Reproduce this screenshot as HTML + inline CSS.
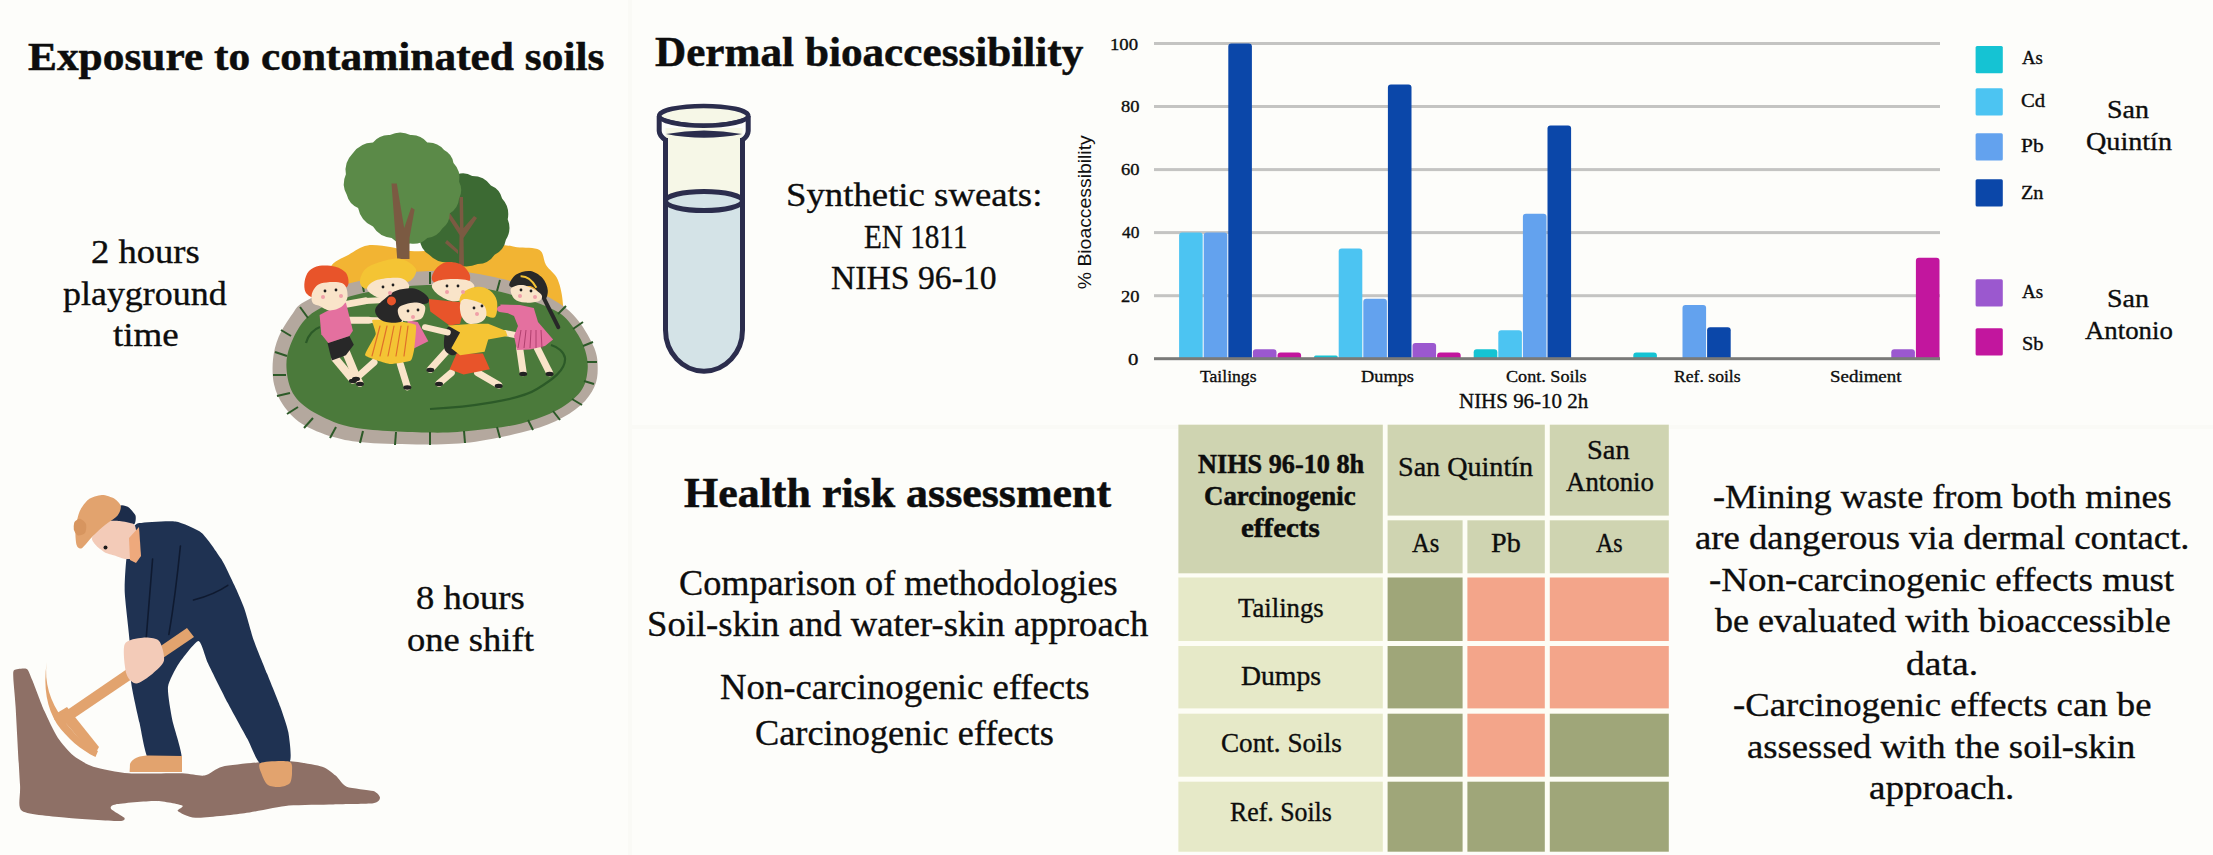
<!DOCTYPE html>
<html><head><meta charset="utf-8"><title>Graphical abstract</title>
<style>
html,body{margin:0;padding:0;}
body{width:2213px;height:855px;position:relative;overflow:hidden;background:#fdfdfa;font-family:"Liberation Serif", serif;color:#0d0d0d;}
.t{position:absolute;white-space:nowrap;transform-origin:0 0;-webkit-text-stroke:0.35px #0d0d0d;}
.b{-webkit-text-stroke:0.5px #0d0d0d;}
svg{position:absolute;left:0;top:0;}
</style></head><body>
<svg width="2213" height="855" viewBox="0 0 2213 855">
<rect x="628" y="0" width="4" height="855" fill="#fafaf6"/>
<rect x="632" y="425" width="1581" height="4" fill="#fafaf6"/>

<g id="playground">
<path d="M328.0,300.0 C328.0,289.7 326.6,275.6 330.0,268.0 C333.4,260.4 342.5,258.5 348.7,254.7 C354.9,250.9 360.2,246.7 367.4,245.4 C374.6,244.2 384.5,246.3 391.7,247.2 C398.9,248.1 400.7,250.5 410.4,251.0 C420.1,251.5 435.3,250.9 450.0,250.0 C464.7,249.1 487.2,245.9 498.4,245.4 C509.6,244.9 510.1,246.4 517.0,247.2 C523.9,248.0 534.7,247.0 539.5,250.0 C544.3,253.0 543.0,260.1 546.0,265.0 C549.0,269.9 555.0,273.0 557.8,279.7 C560.6,286.4 562.6,296.6 563.0,305.0 C563.4,313.4 598.8,325.8 560.0,330.0 C521.2,334.2 368.7,335.0 330.0,330.0 C291.3,325.0 328.0,310.3 328.0,300.0 Z" fill="#f2b433"/>
<path d="M419.8,239.7 A30.6,30.6 0 0 1 429.2,213.5 A24.7,24.7 0 0 1 446.0,198.6 A29.4,29.4 0 0 1 457.2,174.3 A16.6,16.6 0 0 1 472.2,176.1 A23.0,23.0 0 0 1 490.9,185.5 A19.0,19.0 0 0 1 502.1,198.6 A23.5,23.5 0 0 1 507.7,219.2 A22.6,22.6 0 0 1 505.9,239.7 A20.7,20.7 0 0 1 494.6,254.7 A21.2,21.2 0 0 1 477.8,264.1 A28.9,28.9 0 0 1 451.6,262.2 A26.0,26.0 0 0 1 429.2,254.7 A19.5,19.5 0 0 1 419.8,239.7 Z" fill="#3c6a33"/>
<path d="M459,266 L459.5,235 L446,214 L449,212 L460,228 L459.5,197 L463,197 L463.5,228 L474,216 L477,218 L463.5,238 L464,266 Z M447,240 L458,250 L458,254 L445,243 Z" fill="#7b5a42"/>
<path d="M345.9,174.3 A23.8,23.8 0 0 1 352.4,153.7 A25.8,25.8 0 0 1 373.0,142.5 A20.3,20.3 0 0 1 389.9,135.0 A22.6,22.6 0 0 1 410.4,135.0 A20.3,20.3 0 0 1 427.3,142.5 A20.2,20.2 0 0 1 444.1,150.0 A17.6,17.6 0 0 1 453.5,163.0 A21.5,21.5 0 0 1 459.1,181.7 A18.6,18.6 0 0 1 459.1,198.6 A19.4,19.4 0 0 1 449.7,213.5 A18.4,18.4 0 0 1 442.3,228.5 A19.5,19.5 0 0 1 427.3,237.9 A19.6,19.6 0 0 1 410.4,243.5 A21.5,21.5 0 0 1 391.7,237.9 A24.0,24.0 0 0 1 373.0,226.6 A26.3,26.3 0 0 1 358.1,207.9 A19.0,19.0 0 0 1 346.8,194.8 A22.6,22.6 0 0 1 345.9,174.3 Z" fill="#5b8a48"/>
<path d="M391.5,183.6 L396.8,183.6 L404.2,228 L411.2,207.5 L414.6,209.5 L409.5,238 L409.5,259 L397.2,259 Z" fill="#7b5a42"/>
<path d="M304.0,302.0 C311.9,297.4 325.7,290.5 340.0,286.0 C354.3,281.5 375.0,277.5 390.0,275.0 C405.0,272.5 416.5,271.4 430.0,271.0 C443.5,270.6 456.0,270.6 471.0,272.8 C486.0,275.0 505.5,279.1 520.0,284.0 C534.5,288.9 548.1,296.4 557.8,302.5 C567.5,308.6 572.2,313.1 578.3,320.7 C584.4,328.3 591.1,340.1 594.3,348.1 C597.5,356.1 597.7,362.2 597.7,368.7 C597.7,375.2 597.1,380.8 594.3,386.9 C591.4,393.0 587.1,399.5 580.6,405.2 C574.1,410.9 565.4,416.6 555.5,421.2 C545.6,425.8 534.6,429.2 521.3,432.6 C508.0,436.0 490.8,439.7 475.6,441.7 C460.4,443.7 448.0,444.3 430.0,444.5 C412.0,444.7 383.8,444.0 367.7,442.8 C351.6,441.6 344.5,440.3 333.5,437.1 C322.5,433.9 309.9,428.7 301.5,423.4 C293.1,418.1 287.9,411.7 283.3,405.2 C278.7,398.7 275.8,392.2 274.1,384.6 C272.4,377.0 272.2,367.5 273.0,359.5 C273.8,351.5 275.5,344.3 278.7,336.7 C281.9,329.1 288.2,319.7 292.4,313.9 C296.6,308.1 296.1,306.6 304.0,302.0 Z" fill="#b4a89e"/>
<path d="M308.4,316.2 C317.5,308.2 331.1,302.7 345.0,298.0 C358.9,293.3 377.5,290.2 392.0,288.0 C406.5,285.8 418.2,285.2 432.0,285.0 C445.8,284.8 460.3,285.0 475.0,287.0 C489.7,289.0 506.2,292.8 520.0,297.0 C533.8,301.2 548.6,306.5 557.8,312.0 C567.0,317.5 570.4,323.6 575.0,330.0 C579.6,336.4 583.1,343.6 585.2,350.4 C587.3,357.2 588.3,364.1 587.5,371.0 C586.7,377.9 585.6,385.1 580.6,391.5 C575.6,397.9 567.7,404.4 557.8,409.7 C547.9,415.0 535.0,420.0 521.3,423.4 C507.6,426.8 490.8,428.8 475.6,430.3 C460.4,431.8 449.9,433.0 430.0,432.6 C410.1,432.2 375.1,431.1 356.3,428.0 C337.6,424.9 327.8,419.6 317.5,414.3 C307.2,409.0 299.8,403.2 294.7,396.0 C289.6,388.8 287.5,379.4 286.7,371.0 C285.9,362.6 286.5,354.9 290.1,345.8 C293.7,336.7 299.2,324.2 308.4,316.2 Z" fill="#4b7a3b"/>
<g stroke="#2c5a28" stroke-width="2"><line x1="281" y1="330" x2="291" y2="336"/><line x1="275" y1="352" x2="287" y2="356"/><line x1="273" y1="375" x2="286" y2="375"/><line x1="277" y1="396" x2="290" y2="393"/><line x1="287" y1="414" x2="298" y2="407"/><line x1="304" y1="428" x2="313" y2="418"/><line x1="330" y1="438" x2="336" y2="427"/><line x1="360" y1="443" x2="363" y2="431"/><line x1="395" y1="445" x2="396" y2="432"/><line x1="430" y1="445" x2="430" y2="432"/><line x1="465" y1="443" x2="464" y2="431"/><line x1="500" y1="438" x2="497" y2="427"/><line x1="533" y1="430" x2="528" y2="420"/><line x1="560" y1="420" x2="553" y2="411"/><line x1="582" y1="405" x2="572" y2="399"/><line x1="594" y1="384" x2="584" y2="381"/><line x1="597" y1="362" x2="587" y2="362"/><line x1="593" y1="342" x2="583" y2="346"/><line x1="583" y1="322" x2="573" y2="329"/><line x1="566" y1="306" x2="558" y2="314"/><line x1="300" y1="307" x2="308" y2="318"/><line x1="330" y1="292" x2="334" y2="302"/><line x1="362" y1="282" x2="364" y2="292"/><line x1="395" y1="275" x2="396" y2="286"/><line x1="430" y1="272" x2="430" y2="284"/><line x1="465" y1="273" x2="464" y2="285"/><line x1="500" y1="280" x2="497" y2="291"/><line x1="535" y1="292" x2="530" y2="302"/></g>
<path d="M430,409 C470,407 520,400 537,389 C552,380 566,370 565,358 C564,352 558,347 551,345" fill="none" stroke="#2c5a28" stroke-width="2.2"/>
<path d="M306,343 C308,335 314,329 320,327" fill="none" stroke="#2c5a28" stroke-width="2.2"/>
<path d="M359.9,281.6 C359.9,278.4 362.0,272.5 365.2,269.3 C368.4,266.1 373.3,264.1 379.2,262.3 C385.1,260.6 394.2,257.6 400.3,258.8 C406.4,260.0 414.6,265.5 416.0,269.3 C417.4,273.1 412.8,279.9 409.0,281.6 C405.2,283.4 398.4,279.2 393.2,279.8 C387.9,280.4 382.2,283.6 377.5,285.1 C372.8,286.6 368.1,289.2 365.2,288.6 C362.3,288.0 359.9,284.8 359.9,281.6 Z" fill="#f4c434"/>
<path d="M367.0,288.6 C367.0,285.7 371.9,281.6 377.5,279.8 C383.1,278.0 395.1,277.1 400.3,278.0 C405.6,278.9 408.1,282.7 409.0,285.0 C409.9,287.3 408.4,289.9 405.5,292.0 C402.6,294.1 396.2,296.5 391.5,297.4 C386.8,298.3 381.6,298.9 377.5,297.4 C373.4,295.9 367.0,291.5 367.0,288.6 Z" fill="#f9e4c9"/>
<line x1="446.0" y1="351.8" x2="430.3" y2="369.3" stroke="#f9e4c9" stroke-width="7" stroke-linecap="round"/>
<path d="M447.8,327.2 C451.6,324.0 465.1,325.5 467.1,329.0 C469.2,332.5 462.4,343.8 460.1,348.2 C457.8,352.6 455.7,355.3 453.1,355.3 C450.5,355.3 445.2,352.9 444.3,348.2 C443.4,343.5 444.0,330.4 447.8,327.2 Z" fill="#282828"/>
<path d="M428.5,299.1 L447.8,300.9 L465.4,302.6 L460.1,323.7 L449.6,325.4 L430.3,311.4 Z" fill="#e8542a"/>
<path d="M432.0,279.8 C431.1,277.2 433.2,272.2 435.5,269.3 C437.8,266.4 441.9,263.2 446.0,262.3 C450.1,261.4 456.3,262.2 460.1,264.0 C463.9,265.8 467.4,269.9 468.9,272.8 C470.4,275.7 470.9,279.9 468.9,281.6 C466.8,283.4 461.3,282.7 456.6,283.3 C451.9,283.9 444.9,285.7 440.8,285.1 C436.7,284.5 432.9,282.4 432.0,279.8 Z" fill="#e8542a"/>
<path d="M432.0,285.0 C432.9,282.6 436.9,280.7 442.5,279.8 C448.1,278.9 460.1,278.9 465.4,279.8 C470.7,280.7 472.9,283.1 474.1,285.1 C475.3,287.2 473.8,289.8 472.4,292.1 C470.9,294.4 468.9,297.5 465.4,299.0 C461.9,300.5 456.0,301.8 451.3,300.9 C446.6,300.0 440.5,296.5 437.3,293.9 C434.1,291.2 431.1,287.4 432.0,285.0 Z" fill="#f9e4c9"/>
<line x1="335.4" y1="358.8" x2="352.9" y2="379.8" stroke="#f9e4c9" stroke-width="8" stroke-linecap="round"/>
<line x1="345.9" y1="351.8" x2="354.6" y2="372.8" stroke="#f9e4c9" stroke-width="8" stroke-linecap="round"/>
<line x1="354.6" y1="372.8" x2="360.0" y2="383.3" stroke="#f9e4c9" stroke-width="7" stroke-linecap="round"/>
<line x1="345.9" y1="304.4" x2="365.2" y2="300.9" stroke="#f9e4c9" stroke-width="7" stroke-linecap="round"/>
<line x1="342.4" y1="320.2" x2="368.7" y2="320.2" stroke="#f9e4c9" stroke-width="7" stroke-linecap="round"/>
<line x1="365.0" y1="301.0" x2="385.0" y2="300.0" stroke="#f9e4c9" stroke-width="6" stroke-linecap="round"/>
<line x1="368.0" y1="320.0" x2="400.0" y2="321.0" stroke="#f9e4c9" stroke-width="6" stroke-linecap="round"/>
<path d="M327.5,343.0 L349.4,336.0 L353.8,344.7 L345.9,355.3 L331.8,360.5 Z" fill="#282828"/>
<path d="M319.6,315.0 L330.0,309.6 L345.9,302.6 L352.9,330.7 L349.4,336.0 L328.3,343.0 L321.3,334.2 Z" fill="#e4709f"/>
<path d="M304.6,281.6 C305.2,278.1 306.5,273.6 309.0,271.0 C311.5,268.4 315.2,266.5 319.6,265.8 C324.0,265.1 331.0,265.5 335.4,266.7 C339.8,267.9 343.7,270.0 345.9,272.8 C348.1,275.6 348.8,280.8 348.5,283.3 C348.2,285.8 347.2,287.6 344.1,288.0 C341.0,288.4 334.7,285.3 330.0,286.0 C325.3,286.7 318.9,290.1 316.0,292.0 C313.1,293.9 314.2,297.4 312.5,297.4 C310.8,297.4 306.8,294.7 305.5,292.1 C304.2,289.5 304.0,285.1 304.6,281.6 Z" fill="#e8542a"/>
<path d="M312.5,292.0 C314.0,288.8 316.3,284.8 321.3,283.3 C326.3,281.9 338.0,281.2 342.4,283.3 C346.8,285.4 347.6,291.8 347.6,295.6 C347.6,299.4 345.3,303.6 342.4,306.1 C339.5,308.6 333.8,310.5 330.0,310.5 C326.2,310.5 322.5,307.4 319.6,306.1 C316.7,304.8 313.7,305.0 312.5,302.6 C311.3,300.2 311.0,295.2 312.5,292.0 Z" fill="#f9e4c9"/>
<line x1="374.0" y1="362.3" x2="356.4" y2="378.0" stroke="#f9e4c9" stroke-width="7" stroke-linecap="round"/>
<line x1="400.3" y1="364.0" x2="407.3" y2="386.8" stroke="#f9e4c9" stroke-width="7" stroke-linecap="round"/>
<path d="M407.3,320.2 L417.8,322.0 L428.3,341.2 L410.8,350.0 Z" fill="#e4709f"/>
<path d="M372.2,320.2 C372.9,319.3 384.1,320.1 386.2,320.2 C388.3,320.3 401.8,321.7 403.8,322.0 C405.8,322.3 415.3,323.7 416.0,325.4 C416.7,327.1 414.6,345.9 414.3,348.2 C414.0,350.5 412.4,359.4 410.8,360.5 C409.2,361.6 392.7,364.3 389.7,364.0 C386.7,363.7 366.1,357.3 365.2,355.3 C364.3,353.3 375.2,336.5 375.7,334.2 C376.2,331.9 371.5,321.1 372.2,320.2 Z" fill="#f4c434"/>
<g stroke="#e0702a" stroke-width="1.2"><line x1="380.0" y1="326.0" x2="372.0" y2="356.0" stroke="#e0702a" stroke-width="1.2" stroke-linecap="round"/><line x1="387.0" y1="326.0" x2="380.0" y2="356.0" stroke="#e0702a" stroke-width="1.2" stroke-linecap="round"/><line x1="394.0" y1="326.0" x2="388.0" y2="356.0" stroke="#e0702a" stroke-width="1.2" stroke-linecap="round"/><line x1="401.0" y1="326.0" x2="396.0" y2="356.0" stroke="#e0702a" stroke-width="1.2" stroke-linecap="round"/><line x1="408.0" y1="326.0" x2="404.0" y2="356.0" stroke="#e0702a" stroke-width="1.2" stroke-linecap="round"/></g>
<path d="M375.7,307.9 C377.1,304.7 382.7,300.3 386.2,297.4 C389.7,294.5 392.1,291.9 396.8,290.4 C401.5,288.9 409.3,287.7 414.3,288.6 C419.3,289.5 424.3,293.3 426.6,295.6 C428.9,297.9 429.8,300.9 428.3,302.6 C426.8,304.4 421.9,303.8 417.8,306.1 C413.7,308.5 406.7,314.1 403.8,316.7 C400.9,319.3 403.2,321.1 400.3,322.0 C397.4,322.9 390.0,322.9 386.2,322.0 C382.4,321.1 379.2,319.1 377.5,316.7 C375.8,314.3 374.2,311.1 375.7,307.9 Z" fill="#282828"/>
<path d="M398.5,307.9 C400.6,305.0 409.9,302.9 414.3,302.6 C418.7,302.3 423.4,303.8 424.8,306.1 C426.2,308.5 424.5,314.4 423.0,316.7 C421.5,319.0 419.5,319.6 416.0,320.2 C412.5,320.8 404.9,322.2 402.0,320.2 C399.1,318.1 396.4,310.8 398.5,307.9 Z" fill="#f9e4c9"/>
<circle cx="391.5" cy="300.9" r="4.5" fill="#e8542a"/>
<line x1="451.3" y1="372.8" x2="439.0" y2="383.3" stroke="#f9e4c9" stroke-width="7" stroke-linecap="round"/>
<line x1="477.6" y1="372.8" x2="498.7" y2="385.0" stroke="#f9e4c9" stroke-width="7" stroke-linecap="round"/>
<line x1="425.0" y1="327.2" x2="447.8" y2="332.5" stroke="#f9e4c9" stroke-width="6" stroke-linecap="round"/>
<line x1="505.0" y1="333.0" x2="520.0" y2="336.0" stroke="#f9e4c9" stroke-width="6" stroke-linecap="round"/>
<path d="M456.6,353.5 L482.9,353.5 L489.9,369.3 L463.6,374.6 L449.6,369.3 Z" fill="#e8542a"/>
<path d="M447.8,325.4 L474.1,323.7 L488.2,323.7 L505.7,330.7 L507.5,336.0 L488.2,339.5 L484.6,351.8 L460.1,355.3 L451.3,348.2 L460.1,332.5 Z" fill="#f4c434"/>
<path d="M460.1,302.6 C458.4,300.3 460.7,294.7 463.6,292.1 C466.5,289.5 473.2,287.1 477.6,286.8 C482.0,286.5 486.7,288.0 489.9,290.4 C493.1,292.8 496.0,296.5 496.9,300.9 C497.8,305.3 497.2,314.3 495.2,316.7 C493.1,319.1 488.1,316.8 484.6,315.0 C481.1,313.2 478.2,308.2 474.1,306.1 C470.0,304.0 461.9,304.9 460.1,302.6 Z" fill="#f4c434"/>
<path d="M460.1,304.4 C460.7,301.5 461.6,299.1 465.4,299.1 C469.2,299.1 479.4,301.8 482.9,304.4 C486.4,307.0 486.7,312.1 486.4,315.0 C486.1,317.9 484.0,320.6 481.1,322.0 C478.2,323.4 472.1,324.6 468.9,323.7 C465.7,322.8 463.3,319.9 461.8,316.7 C460.3,313.5 459.5,307.3 460.1,304.4 Z" fill="#f9e4c9"/>
<line x1="519.7" y1="348.2" x2="523.2" y2="372.8" stroke="#f9e4c9" stroke-width="7" stroke-linecap="round"/>
<line x1="537.3" y1="348.2" x2="549.6" y2="372.8" stroke="#f9e4c9" stroke-width="7" stroke-linecap="round"/>
<line x1="500.0" y1="309.0" x2="520.0" y2="312.0" stroke="#e4709f" stroke-width="6" stroke-linecap="round"/>
<line x1="544.3" y1="299.1" x2="558.3" y2="327.2" stroke="#282828" stroke-width="4" stroke-linecap="round"/>
<path d="M500.4,304.4 L520.0,305.0 L533.8,307.9 L538.0,322.0 L553.1,339.5 L545.0,346.0 L530.0,349.5 L517.0,350.0 L514.0,336.0 L518.0,326.0 L514.0,316.0 L500.4,309.6 Z" fill="#e4709f"/>
<g stroke="#b0406e" stroke-width="1"><line x1="521" y1="330" x2="518" y2="348"/><line x1="526" y1="330" x2="524" y2="348"/><line x1="531" y1="330" x2="530" y2="348"/><line x1="536" y1="330" x2="536" y2="348"/><line x1="541" y1="330" x2="542" y2="348"/></g>
<path d="M509.2,285.1 C509.2,282.9 512.7,277.0 516.2,274.6 C519.7,272.2 525.9,270.4 530.3,271.0 C534.7,271.6 539.6,274.8 542.5,278.0 C545.4,281.2 547.5,286.6 547.8,290.4 C548.1,294.2 545.9,300.6 544.3,300.9 C542.7,301.2 540.3,294.5 538.0,292.0 C535.7,289.5 533.9,286.7 530.3,286.0 C526.7,285.3 519.7,288.1 516.2,288.0 C512.7,287.9 509.2,287.3 509.2,285.1 Z" fill="#282828"/>
<path d="M511.0,288.6 C512.5,286.3 518.2,284.2 523.2,285.1 C528.2,286.0 538.2,291.3 540.8,293.9 C543.4,296.5 541.6,299.4 539.0,300.9 C536.4,302.3 529.1,302.9 525.0,302.6 C520.9,302.3 516.8,301.4 514.5,299.1 C512.2,296.8 509.6,290.9 511.0,288.6 Z" fill="#f9e4c9"/>
<path d="M520.6,276.3 Q530,276 536.4,287.7" fill="none" stroke="#f4c434" stroke-width="2"/>
<ellipse cx="352.9" cy="381" rx="4" ry="2.2" fill="#222"/>
<ellipse cx="360" cy="384" rx="4" ry="2.2" fill="#222"/>
<ellipse cx="356" cy="379" rx="4" ry="2.2" fill="#222"/>
<ellipse cx="407.3" cy="387.5" rx="4" ry="2.2" fill="#222"/>
<ellipse cx="430.3" cy="370" rx="4" ry="2.2" fill="#222"/>
<ellipse cx="439" cy="384" rx="4" ry="2.2" fill="#222"/>
<ellipse cx="498.7" cy="386" rx="4" ry="2.2" fill="#222"/>
<ellipse cx="523.2" cy="374" rx="4" ry="2.2" fill="#222"/>
<ellipse cx="549.6" cy="374" rx="4" ry="2.2" fill="#222"/>
<circle cx="325" cy="291" r="1.4" fill="#1e1e1e"/>
<circle cx="336" cy="290" r="1.4" fill="#1e1e1e"/>
<circle cx="383" cy="287" r="1.4" fill="#1e1e1e"/>
<circle cx="393" cy="285" r="1.4" fill="#1e1e1e"/>
<circle cx="447" cy="286" r="1.4" fill="#1e1e1e"/>
<circle cx="458" cy="286" r="1.4" fill="#1e1e1e"/>
<circle cx="408" cy="311" r="1.4" fill="#1e1e1e"/>
<circle cx="418" cy="310" r="1.4" fill="#1e1e1e"/>
<circle cx="474" cy="308" r="1.4" fill="#1e1e1e"/>
<circle cx="482" cy="306" r="1.4" fill="#1e1e1e"/>
<circle cx="521" cy="290" r="1.4" fill="#1e1e1e"/>
<circle cx="531" cy="291" r="1.4" fill="#1e1e1e"/>
<circle cx="323" cy="297" r="2" fill="#f0a0a8"/>
<circle cx="341" cy="296" r="2" fill="#f0a0a8"/>
<circle cx="390" cy="293" r="2" fill="#f0a0a8"/>
<circle cx="447" cy="292" r="2" fill="#f0a0a8"/>
<circle cx="463" cy="292" r="2" fill="#f0a0a8"/>
<circle cx="413" cy="317" r="2" fill="#f0a0a8"/>
<circle cx="477" cy="314" r="2" fill="#f0a0a8"/>
<circle cx="520" cy="296" r="2" fill="#f0a0a8"/>
<circle cx="535" cy="297" r="2" fill="#f0a0a8"/>
</g>
<g id="miner">
<path d="M14.4,670.0 C16.0,669.0 24.6,667.7 26.7,668.9 C28.8,670.1 30.1,675.1 32.2,680.0 C34.3,684.9 41.4,704.4 44.4,711.1 C47.4,717.8 54.4,732.6 57.8,737.8 C61.2,743.0 69.2,752.2 73.3,755.6 C77.4,759.0 86.8,764.6 93.3,766.7 C99.8,768.8 118.5,772.5 128.9,773.3 C139.3,774.1 173.4,773.0 182.2,773.3 C191.0,773.6 199.7,776.4 204.4,775.6 C209.1,774.8 215.7,768.3 222.2,766.7 C228.7,765.1 252.2,762.9 260.0,762.2 C267.8,761.5 281.6,760.6 288.9,761.1 C296.2,761.6 316.8,765.0 322.2,766.7 C327.6,768.4 332.7,773.3 335.6,775.6 C338.5,777.9 342.3,784.9 346.7,786.7 C351.1,788.5 369.4,789.8 373.3,791.1 C377.2,792.4 380.0,796.4 380.0,797.8 C380.0,799.2 378.7,802.5 373.3,803.3 C367.9,804.1 343.1,804.1 333.3,804.4 C323.5,804.7 299.3,804.6 288.9,805.6 C278.5,806.6 255.3,811.9 244.4,813.3 C233.5,814.7 203.4,818.1 195.6,817.8 C187.8,817.5 179.4,812.5 177.8,811.1 C176.2,809.7 184.8,806.8 182.2,805.6 C179.6,804.4 163.4,801.2 155.6,801.1 C147.8,801.0 120.8,803.5 115.6,804.4 C110.4,805.3 110.1,807.3 111.1,808.9 C112.1,810.5 123.6,816.4 124.4,817.8 C125.2,819.2 124.5,821.1 117.8,821.1 C111.1,821.1 77.9,819.0 66.7,817.8 C55.5,816.6 27.6,815.0 22.2,811.1 C16.8,807.2 20.8,796.6 20.0,784.4 C19.2,772.2 16.4,719.1 15.6,706.7 C14.8,694.3 13.4,682.1 13.3,677.8 C13.2,673.5 12.8,671.0 14.4,670.0 Z" fill="#8e7066"/>
<path d="M46.7,662 C44,682 50,702 63,719 C73,733 85,745 98,751 L95.5,757 C81,750 67,738 57,724 C47,708 43,688 46.7,662 Z" fill="#e2a36e"/>
<path d="M57,713 L67,707 L99,747 L94,756 Z" fill="#e2a36e"/>
<path d="M139.5,523.1 C143.8,522.3 169.3,520.5 175.5,521.5 C181.7,522.5 197.1,529.1 201.7,532.9 C206.3,536.7 218.0,553.9 221.3,559.1 C224.6,564.3 232.1,580.4 234.4,585.3 C236.7,590.2 242.2,602.6 244.2,608.2 C246.2,613.8 251.7,634.4 254.0,640.9 C256.3,647.4 264.5,667.2 267.1,673.7 C269.7,680.2 278.1,700.5 280.2,706.4 C282.3,712.3 287.5,727.0 288.4,732.6 C289.3,738.2 292.3,758.9 289.5,762.0 C286.7,765.1 264.8,766.0 260.6,763.7 C256.4,761.4 250.8,745.2 247.5,739.1 C244.2,733.0 231.7,710.6 227.8,703.1 C223.9,695.6 211.1,670.0 208.2,663.8 C205.3,657.6 201.3,640.9 198.4,640.9 C195.5,640.9 181.7,659.2 178.7,663.8 C175.7,668.4 168.7,681.2 168.0,686.8 C167.3,692.4 170.8,712.2 172.2,719.5 C173.5,726.8 183.8,755.9 181.5,760.0 C179.2,764.1 153.5,764.1 149.3,760.4 C145.1,756.7 141.3,730.5 139.5,722.8 C137.7,715.1 132.3,691.7 131.3,683.5 C130.3,675.3 130.3,650.1 129.6,640.9 C128.9,631.7 125.0,600.0 124.7,591.8 C124.4,583.6 125.6,565.3 126.4,559.1 C127.2,552.9 131.6,533.2 132.9,529.6 C134.2,526.0 135.2,523.9 139.5,523.1 Z" fill="#1f3252"/>
<path d="M152.6,559 C150,590 148,615 146,641 M180.4,546 C177,580 173,610 168.9,634.4 M193.5,600 C205,597 218,592 227.8,585.3" fill="none" stroke="#0f1a30" stroke-width="1.6" stroke-linecap="round"/>
<path d="M129.6,772 L130,764 C132,758 140,755.5 150,755.5 L182,756 L182,772 Z" fill="#e2a36e"/>
<path d="M260.6,763.0 C264.2,761.2 284.8,760.3 289.0,761.5 C293.2,762.7 291.9,769.1 292.0,772.0 C292.1,774.9 291.6,781.0 290.0,783.0 C288.4,785.0 282.9,786.7 280.0,787.0 C277.1,787.3 270.4,786.6 268.0,785.0 C265.6,783.4 263.0,777.9 262.0,775.0 C261.0,772.1 257.0,764.8 260.6,763.0 Z" fill="#e2a36e"/>
<path d="M187,628 L194,637 L61,727 L54,719 Z" fill="#e2a36e"/>
<path d="M124.7,644.2 C126.9,639.4 138.1,638.1 142.7,637.7 C147.3,637.3 156.3,637.8 159.1,640.9 C161.9,644.0 164.9,656.2 164.0,660.6 C163.1,665.0 156.3,670.6 152.6,673.7 C148.9,676.8 139.7,683.5 136.2,683.5 C132.7,683.5 127.9,678.9 126.4,673.7 C124.9,668.5 122.5,649.0 124.7,644.2 Z" fill="#f3cbb8"/>
<path d="M109.2,522.9 C109.2,520.4 117.8,507.6 119.7,506.0 C121.6,504.4 126.6,506.2 128.2,507.1 C129.8,508.1 134.9,513.8 135.5,515.5 C136.1,517.2 135.7,522.8 134.5,524.0 C133.3,525.2 125.5,526.4 124.0,527.1 C122.5,527.8 121.2,531.7 119.7,531.3 C118.2,530.9 109.2,525.4 109.2,522.9 Z" fill="#1c2c4a"/>
<path d="M92.0,538.0 C92.7,535.6 101.2,523.7 104.0,522.0 C106.8,520.3 116.8,520.8 119.7,521.0 C122.6,521.2 131.8,523.1 133.4,524.0 C135.0,524.9 135.7,527.1 136.0,530.0 C136.3,532.9 137.0,550.5 136.5,553.4 C136.0,556.3 132.2,558.3 131.0,558.8 C129.8,559.3 125.7,559.0 124.0,558.7 C122.3,558.4 116.4,556.1 114.5,555.5 C112.6,554.9 106.8,553.4 105.0,552.4 C103.2,551.4 97.9,547.4 96.6,546.0 C95.3,544.6 91.3,540.4 92.0,538.0 Z" fill="#f3cbb8"/>
<circle cx="105.5" cy="547.6" r="2" fill="#1a1a1a"/>
<path d="M129,538 L139,527 L141,556 L136,563 L130,560 Z" fill="#eea97c"/>
<path d="M76.6,545.0 C75.8,542.5 75.1,533.7 75.5,529.2 C75.9,524.7 78.0,515.2 79.7,511.3 C81.4,507.4 85.3,501.9 88.2,499.7 C91.1,497.5 98.3,495.1 101.8,495.0 C105.3,494.9 112.0,497.2 114.5,498.7 C117.0,500.2 120.4,503.8 120.8,506.0 C121.2,508.2 119.7,513.0 117.6,515.5 C115.5,518.0 108.2,522.3 105.0,525.0 C101.8,527.7 96.5,532.4 93.4,535.5 C90.3,538.6 84.0,546.9 81.8,548.2 C79.6,549.5 77.4,547.5 76.6,545.0 Z" fill="#e2a36e"/>
<path d="M74.5,522.0 C75.3,520.5 78.5,518.4 80.0,518.7 C81.5,519.0 85.3,522.1 86.0,524.0 C86.7,525.9 86.1,531.5 85.0,533.0 C83.9,534.5 79.5,535.9 78.0,535.5 C76.5,535.1 74.5,531.8 74.0,530.0 C73.5,528.2 73.7,523.5 74.5,522.0 Z" fill="#d7955f"/>
</g>
<g id="tube">
 <path d="M665.5,128 V330 A38.5,41.2 0 0 0 742.5,330 V128 Z" fill="#f6f7e7"/>
 <path d="M665.5,201 V330 A38.5,41.2 0 0 0 742.5,330 V201 Z" fill="#d4e3e7"/>
 <path d="M665.5,138 V330 A38.5,41.2 0 0 0 742.5,330 V138" fill="none" stroke="#2b2d4d" stroke-width="5"/>
 <ellipse cx="704" cy="201" rx="38.5" ry="9.5" fill="#d4e3e7" stroke="#2b2d4d" stroke-width="5"/>
 <path d="M659.2,116 V131 Q659.4,136 665.5,140 M748.2,116 V131 Q748,136 742.5,140" fill="none" stroke="#2b2d4d" stroke-width="5"/>
 <ellipse cx="703.7" cy="115.8" rx="44.5" ry="9.8" fill="#f6f7e7" stroke="#2b2d4d" stroke-width="4.6"/>
 <path d="M661,117 Q704,131 746.5,117 L746.5,119 Q704,135 661,119 Z" fill="#2b2d4d"/>
 <path d="M666,134 Q704,127 742,134 Q704,141.5 666,134 Z" fill="#2b2d4d"/>
</g>

<rect x="1154.0" y="294.2" width="786.0" height="3" fill="#c4c4c2"/>
<rect x="1154.0" y="231.1" width="786.0" height="3" fill="#c4c4c2"/>
<rect x="1154.0" y="168.1" width="786.0" height="3" fill="#c4c4c2"/>
<rect x="1154.0" y="105.0" width="786.0" height="3" fill="#c4c4c2"/>
<rect x="1154.0" y="42.0" width="786.0" height="3" fill="#c4c4c2"/>
<path d="M1179.1,358.7 V235.6 Q1179.1,232.6 1182.1,232.6 H1199.7 Q1202.7,232.6 1202.7,235.6 V358.7 Z" fill="#4cc4f2"/>
<path d="M1203.7,358.7 V235.6 Q1203.7,232.6 1206.7,232.6 H1224.3 Q1227.3,232.6 1227.3,235.6 V358.7 Z" fill="#63a2ee"/>
<path d="M1228.3,358.7 V46.5 Q1228.3,43.5 1231.3,43.5 H1248.9 Q1251.9,43.5 1251.9,46.5 V358.7 Z" fill="#0b47a9"/>
<path d="M1252.9,358.7 V352.2 Q1252.9,349.2 1255.9,349.2 H1273.5 Q1276.5,349.2 1276.5,352.2 V358.7 Z" fill="#9b58cf"/>
<path d="M1277.5,358.7 V355.4 Q1277.5,352.4 1280.5,352.4 H1298.1 Q1301.1,352.4 1301.1,355.4 V358.7 Z" fill="#c2169e"/>
<path d="M1314.1,358.7 V357.1 Q1314.1,355.5 1315.7,355.5 H1336.1 Q1337.7,355.5 1337.7,357.1 V358.7 Z" fill="#15c3d3"/>
<path d="M1338.7,358.7 V251.4 Q1338.7,248.4 1341.7,248.4 H1359.3 Q1362.3,248.4 1362.3,251.4 V358.7 Z" fill="#4cc4f2"/>
<path d="M1363.3,358.7 V301.8 Q1363.3,298.8 1366.3,298.8 H1383.9 Q1386.9,298.8 1386.9,301.8 V358.7 Z" fill="#63a2ee"/>
<path d="M1387.9,358.7 V87.5 Q1387.9,84.5 1390.9,84.5 H1408.5 Q1411.5,84.5 1411.5,87.5 V358.7 Z" fill="#0b47a9"/>
<path d="M1412.5,358.7 V345.9 Q1412.5,342.9 1415.5,342.9 H1433.1 Q1436.1,342.9 1436.1,345.9 V358.7 Z" fill="#9b58cf"/>
<path d="M1437.1,358.7 V355.4 Q1437.1,352.4 1440.1,352.4 H1457.7 Q1460.7,352.4 1460.7,355.4 V358.7 Z" fill="#c2169e"/>
<path d="M1473.7,358.7 V352.2 Q1473.7,349.2 1476.7,349.2 H1494.3 Q1497.3,349.2 1497.3,352.2 V358.7 Z" fill="#15c3d3"/>
<path d="M1498.3,358.7 V333.3 Q1498.3,330.3 1501.3,330.3 H1518.9 Q1521.9,330.3 1521.9,333.3 V358.7 Z" fill="#4cc4f2"/>
<path d="M1522.9,358.7 V216.7 Q1522.9,213.7 1525.9,213.7 H1543.5 Q1546.5,213.7 1546.5,216.7 V358.7 Z" fill="#63a2ee"/>
<path d="M1547.5,358.7 V128.5 Q1547.5,125.5 1550.5,125.5 H1568.1 Q1571.1,125.5 1571.1,128.5 V358.7 Z" fill="#0b47a9"/>
<path d="M1633.3,358.7 V355.4 Q1633.3,352.4 1636.3,352.4 H1653.9 Q1656.9,352.4 1656.9,355.4 V358.7 Z" fill="#15c3d3"/>
<path d="M1682.5,358.7 V308.1 Q1682.5,305.1 1685.5,305.1 H1703.1 Q1706.1,305.1 1706.1,308.1 V358.7 Z" fill="#63a2ee"/>
<path d="M1707.1,358.7 V330.2 Q1707.1,327.2 1710.1,327.2 H1727.7 Q1730.7,327.2 1730.7,330.2 V358.7 Z" fill="#0b47a9"/>
<path d="M1891.3,358.7 V352.2 Q1891.3,349.2 1894.3,349.2 H1911.9 Q1914.9,349.2 1914.9,352.2 V358.7 Z" fill="#9b58cf"/>
<path d="M1915.9,358.7 V260.8 Q1915.9,257.8 1918.9,257.8 H1936.5 Q1939.5,257.8 1939.5,260.8 V358.7 Z" fill="#c2169e"/>
<rect x="1154.0" y="357.2" width="786.0" height="3" fill="#7a7a78"/>
<rect x="1975.6" y="46" width="27.2" height="27.2" rx="1.5" fill="#15c3d3"/>
<rect x="1975.6" y="88.2" width="27.2" height="27.2" rx="1.5" fill="#4cc4f2"/>
<rect x="1975.6" y="133.3" width="27.2" height="27.2" rx="1.5" fill="#63a2ee"/>
<rect x="1975.6" y="179.3" width="27.2" height="27.2" rx="1.5" fill="#0b47a9"/>
<rect x="1975.6" y="279.3" width="27.2" height="27.2" rx="1.5" fill="#9b58cf"/>
<rect x="1975.6" y="328.2" width="27.2" height="27.2" rx="1.5" fill="#c2169e"/>
<rect x="1178" y="424.5" width="491" height="428" fill="#fdfdf5"/>
<rect x="1178.4" y="424.7" width="204.4" height="148.6" fill="#cfd4b1"/>
<rect x="1387.6" y="424.7" width="157.2" height="90.9" fill="#cfd4b1"/>
<rect x="1549.8" y="424.7" width="119.0" height="90.9" fill="#cfd4b1"/>
<rect x="1387.6" y="520.3" width="75.0" height="53.0" fill="#cfd4b1"/>
<rect x="1467.4" y="520.3" width="77.4" height="53.0" fill="#cfd4b1"/>
<rect x="1549.8" y="520.3" width="119.0" height="53.0" fill="#cfd4b1"/>
<rect x="1178.4" y="577.5" width="204.4" height="63.5" fill="#e6e9c8"/>
<rect x="1387.6" y="577.5" width="75.0" height="63.5" fill="#9fa679"/>
<rect x="1467.4" y="577.5" width="77.4" height="63.5" fill="#f3a58a"/>
<rect x="1549.8" y="577.5" width="119.0" height="63.5" fill="#f3a58a"/>
<rect x="1178.4" y="646" width="204.4" height="62.4" fill="#e6e9c8"/>
<rect x="1387.6" y="646" width="75.0" height="62.4" fill="#9fa679"/>
<rect x="1467.4" y="646" width="77.4" height="62.4" fill="#f3a58a"/>
<rect x="1549.8" y="646" width="119.0" height="62.4" fill="#f3a58a"/>
<rect x="1178.4" y="713.7" width="204.4" height="63.0" fill="#e6e9c8"/>
<rect x="1387.6" y="713.7" width="75.0" height="63.0" fill="#9fa679"/>
<rect x="1467.4" y="713.7" width="77.4" height="63.0" fill="#f3a58a"/>
<rect x="1549.8" y="713.7" width="119.0" height="63.0" fill="#9fa679"/>
<rect x="1178.4" y="781.7" width="204.4" height="70.0" fill="#e6e9c8"/>
<rect x="1387.6" y="781.7" width="75.0" height="70.0" fill="#9fa679"/>
<rect x="1467.4" y="781.7" width="77.4" height="70.0" fill="#9fa679"/>
<rect x="1549.8" y="781.7" width="119.0" height="70.0" fill="#9fa679"/>
<text x="0" y="0" transform="translate(1091.3,289.2) rotate(-90) scale(1.0770,1)" font-family="'Liberation Sans', sans-serif" font-size="18.00" fill="#111">% Bioaccessibility</text>
</svg>
<div class="t b" style="left:28.14px;top:37.30px;font-size:40.76px;line-height:40.76px;font-weight:bold;transform:scaleX(1.0644);">Exposure to contaminated soils</div>
<div class="t b" style="left:655.26px;top:32.20px;font-size:41.37px;line-height:41.37px;font-weight:bold;transform:scaleX(1.0443);">Dermal bioaccessibility</div>
<div class="t" style="left:91.21px;top:234.70px;font-size:33.59px;line-height:33.59px;font-weight:normal;transform:scaleX(1.0888);">2 hours</div>
<div class="t" style="left:63.33px;top:276.50px;font-size:33.59px;line-height:33.59px;font-weight:normal;transform:scaleX(1.0697);">playground</div>
<div class="t" style="left:112.80px;top:318.30px;font-size:33.59px;line-height:33.59px;font-weight:normal;transform:scaleX(1.1017);">time</div>
<div class="t" style="left:416.41px;top:580.60px;font-size:33.59px;line-height:33.59px;font-weight:normal;transform:scaleX(1.0888);">8 hours</div>
<div class="t" style="left:407.01px;top:622.70px;font-size:33.59px;line-height:33.59px;font-weight:normal;transform:scaleX(1.0878);">one shift</div>
<div class="t" style="left:786.21px;top:177.70px;font-size:33.59px;line-height:33.59px;font-weight:normal;transform:scaleX(1.0952);">Synthetic sweats:</div>
<div class="t" style="left:863.53px;top:219.50px;font-size:33.59px;line-height:33.59px;font-weight:normal;transform:scaleX(0.8690);">EN 1811</div>
<div class="t" style="left:831.40px;top:260.60px;font-size:33.59px;line-height:33.59px;font-weight:normal;transform:scaleX(1.0031);">NIHS 96-10</div>
<div class="t b" style="left:684.03px;top:473.10px;font-size:41.22px;line-height:41.22px;font-weight:bold;transform:scaleX(1.0658);">Health risk assessment</div>
<div class="t" style="left:678.66px;top:566.60px;font-size:34.81px;line-height:34.81px;font-weight:normal;transform:scaleX(1.0408);">Comparison of methodologies</div>
<div class="t" style="left:646.79px;top:608.00px;font-size:34.81px;line-height:34.81px;font-weight:normal;transform:scaleX(1.0539);">Soil-skin and water-skin approach</div>
<div class="t" style="left:720.34px;top:671.10px;font-size:34.81px;line-height:34.81px;font-weight:normal;transform:scaleX(1.0560);">Non-carcinogenic effects</div>
<div class="t" style="left:755.16px;top:716.70px;font-size:34.81px;line-height:34.81px;font-weight:normal;transform:scaleX(1.0437);">Carcinogenic effects</div>
<div class="t" style="left:1712.84px;top:479.80px;font-size:34.20px;line-height:34.20px;font-weight:normal;transform:scaleX(1.0594);">-Mining waste from both mines</div>
<div class="t" style="left:1694.83px;top:521.20px;font-size:34.20px;line-height:34.20px;font-weight:normal;transform:scaleX(1.0742);">are dangerous via dermal contact.</div>
<div class="t" style="left:1709.32px;top:562.60px;font-size:34.20px;line-height:34.20px;font-weight:normal;transform:scaleX(1.0807);">-Non-carcinogenic effects must</div>
<div class="t" style="left:1714.60px;top:604.00px;font-size:34.20px;line-height:34.20px;font-weight:normal;transform:scaleX(1.0550);">be evaluated with bioaccessible</div>
<div class="t" style="left:1905.90px;top:646.60px;font-size:34.20px;line-height:34.20px;font-weight:normal;transform:scaleX(1.1000);">data.</div>
<div class="t" style="left:1733.13px;top:688.30px;font-size:34.20px;line-height:34.20px;font-weight:normal;transform:scaleX(1.0744);">-Carcinogenic effects can be</div>
<div class="t" style="left:1747.43px;top:729.50px;font-size:34.20px;line-height:34.20px;font-weight:normal;transform:scaleX(1.0731);">assessed with the soil-skin</div>
<div class="t" style="left:1869.41px;top:770.60px;font-size:34.20px;line-height:34.20px;font-weight:normal;transform:scaleX(1.0863);">approach.</div>
<div class="t" style="left:1109.61px;top:35.50px;font-size:17.10px;line-height:17.10px;font-weight:normal;transform:scaleX(1.0957);">100</div>
<div class="t" style="left:1120.52px;top:98.10px;font-size:17.10px;line-height:17.10px;font-weight:normal;transform:scaleX(1.0813);">80</div>
<div class="t" style="left:1120.52px;top:161.20px;font-size:17.10px;line-height:17.10px;font-weight:normal;transform:scaleX(1.0813);">60</div>
<div class="t" style="left:1121.60px;top:224.40px;font-size:17.10px;line-height:17.10px;font-weight:normal;transform:scaleX(1.0176);">40</div>
<div class="t" style="left:1120.52px;top:287.50px;font-size:17.10px;line-height:17.10px;font-weight:normal;transform:scaleX(1.0813);">20</div>
<div class="t" style="left:1127.79px;top:350.60px;font-size:17.10px;line-height:17.10px;font-weight:normal;transform:scaleX(1.2143);">0</div>
<div class="t" style="left:1200.20px;top:367.50px;font-size:17.71px;line-height:17.71px;font-weight:normal;transform:scaleX(0.9964);">Tailings</div>
<div class="t" style="left:1361.16px;top:367.50px;font-size:17.71px;line-height:17.71px;font-weight:normal;transform:scaleX(1.0360);">Dumps</div>
<div class="t" style="left:1505.97px;top:367.50px;font-size:17.71px;line-height:17.71px;font-weight:normal;transform:scaleX(1.0260);">Cont. Soils</div>
<div class="t" style="left:1674.40px;top:367.50px;font-size:17.71px;line-height:17.71px;font-weight:normal;transform:scaleX(0.9969);">Ref. soils</div>
<div class="t" style="left:1829.83px;top:367.50px;font-size:17.71px;line-height:17.71px;font-weight:normal;transform:scaleX(1.0697);">Sediment</div>
<div class="t" style="left:1458.98px;top:391.00px;font-size:20.61px;line-height:20.61px;font-weight:normal;transform:scaleX(1.0167);">NIHS 96-10 2h</div>
<div class="t" style="left:2022.28px;top:49.40px;font-size:18.32px;line-height:18.32px;font-weight:normal;transform:scaleX(1.0211);">As</div>
<div class="t" style="left:2020.67px;top:91.70px;font-size:18.32px;line-height:18.32px;font-weight:normal;transform:scaleX(1.1300);">Cd</div>
<div class="t" style="left:2021.33px;top:136.80px;font-size:18.32px;line-height:18.32px;font-weight:normal;transform:scaleX(1.1667);">Pb</div>
<div class="t" style="left:2021.39px;top:183.90px;font-size:18.32px;line-height:18.32px;font-weight:normal;transform:scaleX(1.1053);">Zn</div>
<div class="t" style="left:2021.96px;top:282.90px;font-size:18.32px;line-height:18.32px;font-weight:normal;transform:scaleX(1.0368);">As</div>
<div class="t" style="left:2021.89px;top:335.00px;font-size:18.32px;line-height:18.32px;font-weight:normal;transform:scaleX(1.1111);">Sb</div>
<div class="t" style="left:2107.31px;top:97.40px;font-size:25.50px;line-height:25.50px;font-weight:normal;transform:scaleX(1.0972);">San</div>
<div class="t" style="left:2086.20px;top:129.30px;font-size:25.50px;line-height:25.50px;font-weight:normal;transform:scaleX(1.1039);">Quintín</div>
<div class="t" style="left:2107.31px;top:285.70px;font-size:25.50px;line-height:25.50px;font-weight:normal;transform:scaleX(1.0972);">San</div>
<div class="t" style="left:2084.60px;top:317.60px;font-size:25.50px;line-height:25.50px;font-weight:normal;transform:scaleX(1.0506);">Antonio</div>
<div class="t b" style="left:1197.90px;top:451.40px;font-size:26.41px;line-height:26.41px;font-weight:bold;transform:scaleX(0.9934);">NIHS 96-10 8h</div>
<div class="t b" style="left:1204.38px;top:482.80px;font-size:26.41px;line-height:26.41px;font-weight:bold;transform:scaleX(1.0162);">Carcinogenic</div>
<div class="t b" style="left:1241.10px;top:515.20px;font-size:26.41px;line-height:26.41px;font-weight:bold;transform:scaleX(1.0971);">effects</div>
<div class="t" style="left:1398.37px;top:453.60px;font-size:26.41px;line-height:26.41px;font-weight:normal;transform:scaleX(1.0645);">San Quintín</div>
<div class="t" style="left:1587.25px;top:437.30px;font-size:26.41px;line-height:26.41px;font-weight:normal;transform:scaleX(1.0757);">San</div>
<div class="t" style="left:1565.60px;top:469.10px;font-size:26.41px;line-height:26.41px;font-weight:normal;transform:scaleX(1.0163);">Antonio</div>
<div class="t" style="left:1412.00px;top:530.40px;font-size:26.41px;line-height:26.41px;font-weight:normal;transform:scaleX(0.9286);">As</div>
<div class="t" style="left:1491.43px;top:530.40px;font-size:26.41px;line-height:26.41px;font-weight:normal;transform:scaleX(1.0654);">Pb</div>
<div class="t" style="left:1596.30px;top:530.40px;font-size:26.41px;line-height:26.41px;font-weight:normal;transform:scaleX(0.9107);">As</div>
<div class="t" style="left:1238.30px;top:594.70px;font-size:26.41px;line-height:26.41px;font-weight:normal;transform:scaleX(1.0119);">Tailings</div>
<div class="t" style="left:1240.65px;top:663.00px;font-size:26.41px;line-height:26.41px;font-weight:normal;transform:scaleX(1.0486);">Dumps</div>
<div class="t" style="left:1220.67px;top:729.70px;font-size:26.41px;line-height:26.41px;font-weight:normal;transform:scaleX(1.0287);">Cont. Soils</div>
<div class="t" style="left:1230.02px;top:798.70px;font-size:26.41px;line-height:26.41px;font-weight:normal;transform:scaleX(0.9775);">Ref. Soils</div>
</body></html>
